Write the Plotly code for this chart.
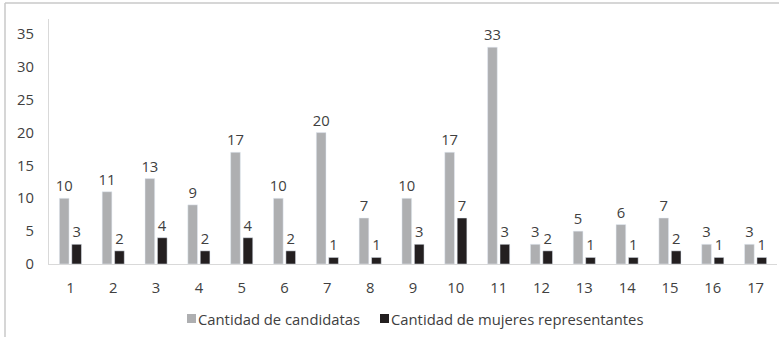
import plotly.graph_objects as go

# Datos por distrito
distritos = [str(i) for i in range(1, 18)]
candidatas = [10, 11, 13, 9, 17, 10, 20, 7, 10, 17, 33, 3, 5, 6, 7, 3, 3]
representantes = [3, 2, 4, 2, 4, 2, 1, 1, 3, 7, 3, 2, 1, 1, 2, 1, 1]

nombre_a = "Cantidad de candidatas"
nombre_b = "Cantidad de mujeres representantes"
y_ticks = [0, 5, 10, 15, 20, 25, 30, 35]

GRIS = "#AEAFB1"
NEGRO = "#231F20"
TEXTO = "#404040"
FUENTE = "Open Sans"
TAM = 14.8

W, H = 779, 337
ML, MR, MT, MB = 49, 2, 19, 73
PW, PH = W - ML - MR, H - MT - MB


def px_x(px):
    """Convierte una posición horizontal en píxeles a coordenadas de papel."""
    return (px - ML) / PW


def px_y(py):
    """Convierte una posición vertical en píxeles a coordenadas de papel."""
    return (MT + PH - py) / PH


fig = go.Figure()
for nombre, valores, color in [(nombre_a, candidatas, GRIS),
                               (nombre_b, representantes, NEGRO)]:
    fig.add_trace(go.Bar(
        x=distritos, y=valores, name=nombre, marker_color=color,
        text=valores, textposition="outside", cliponaxis=False,
        constraintext="none",
        textfont=dict(color=TEXTO, size=TAM, family=FUENTE),
        showlegend=False,
    ))

# Leyenda: cuadro de color + texto
items = [(nombre_a, GRIS, 187), (nombre_b, NEGRO, 380)]
for nombre, color, x0 in items:
    fig.add_shape(type="rect", xref="paper", yref="paper",
                  x0=px_x(x0), x1=px_x(x0 + 9), y0=px_y(323), y1=px_y(314),
                  fillcolor=color, line=dict(width=0))
    fig.add_annotation(text=nombre, xref="paper", yref="paper",
                       x=px_x(x0 + 10), y=px_y(318.5), xanchor="left",
                       yanchor="middle", showarrow=False, borderpad=0,
                       font=dict(size=TAM, color=TEXTO, family=FUENTE))

# Marco exterior (lados superior e izquierdo)
linea = dict(color="#C8C8C8", width=1.5)
fig.add_shape(type="line", xref="paper", yref="paper",
              x0=px_x(5), x1=px_x(W + 5), y0=px_y(3), y1=px_y(3), line=linea)
fig.add_shape(type="line", xref="paper", yref="paper",
              x0=px_x(5), x1=px_x(5), y0=px_y(H + 5), y1=px_y(3), line=linea)

fig.update_layout(
    width=W, height=H,
    margin=dict(l=ML, r=MR, t=MT, b=MB),
    paper_bgcolor="white", plot_bgcolor="white",
    barmode="group", bargap=0.42, bargroupgap=0.22,
    font=dict(family=FUENTE, size=TAM, color=TEXTO),
    showlegend=False,
    xaxis=dict(showline=True, linecolor="#D9D9D9", linewidth=1,
               showgrid=False, ticks="", ticklabelstandoff=10,
               tickfont=dict(size=TAM, color=TEXTO)),
    yaxis=dict(range=[0, PH / 6.571], showline=True, linecolor="#D9D9D9",
               linewidth=1, showgrid=False, zeroline=False,
               tickvals=y_ticks, ticks="", ticklabelstandoff=11,
               tickfont=dict(size=TAM, color=TEXTO)),
)

fig.write_html("out.html")
